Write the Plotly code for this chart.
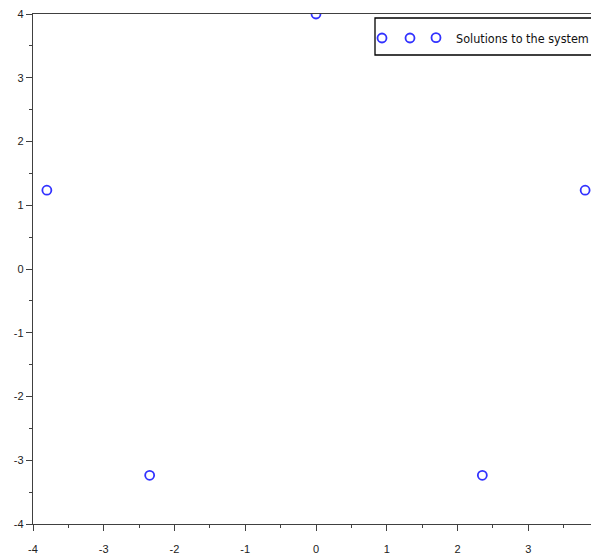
import plotly.graph_objects as go

# Data
x_vals = [0.0, 3.804, 2.351, -2.351, -3.804]
y_vals = [4.0, 1.236, -3.236, -3.236, 1.236]
series_name = "Solutions to the system"
tick_vals = [-4, -3, -2, -1, 0, 1, 2, 3, 4]
tick_text = ["-4", "-3", "-2", "-1", "0", "1", "2", "3", "4"]

blue = "rgb(50,50,255)"
axis_col = "#404040"

# page offset (browser body margin) = 8px; reference plot area: x 33..599, y 14..524
PL, PT, PW, PH = 33, 14, 566, 510

def px_x(p):
    return (p - PL) / PW

def px_y(p):
    return 1 - (p - PT) / PH

marker = dict(symbol="circle-open", size=9, color=blue, line=dict(width=1.8, color=blue))

fig = go.Figure()
fig.add_trace(go.Scatter(x=x_vals, y=y_vals, mode="markers", marker=marker, name=series_name))

tickfont = dict(family="Liberation Sans, Arial, sans-serif", size=11, color="#222222")
common = dict(
    showgrid=False, zeroline=False, showline=True, linecolor=axis_col, linewidth=1.3,
    ticks="outside", ticklen=6, tickwidth=1.3, tickcolor=axis_col,
    tickvals=tick_vals, ticktext=tick_text, tickfont=tickfont, automargin=False,
    ticklabeloverflow="allow",
    minor=dict(ticks="outside", ticklen=3, tickwidth=1.3, tickcolor=axis_col, dtick=0.5, showgrid=False),
)

shapes = [dict(type="rect", xref="paper", yref="paper",
               x0=px_x(375), x1=px_x(592), y0=px_y(55), y1=px_y(18),
               line=dict(color="black", width=1.3), fillcolor="white", layer="below")]
# extra legend sample circles (Scilab draws three markers in the legend)
for cx in (382, 410):
    shapes.append(dict(type="circle", xref="paper", yref="paper",
                       xsizemode="pixel", ysizemode="pixel",
                       xanchor=px_x(cx), yanchor=px_y(38),
                       x0=-4.5, x1=4.5, y0=-4.5, y1=4.5,
                       line=dict(color=blue, width=1.8), layer="above"))

fig.update_layout(
    width=591, height=546,
    margin=dict(l=25, r=0, t=6, b=30),
    paper_bgcolor="white", plot_bgcolor="white",
    xaxis=dict(range=[-4, 4], mirror=True, ticklabelstandoff=9, **common),
    yaxis=dict(range=[-4, 4], mirror=False, **common),
    legend=dict(
        x=px_x(416), y=px_y(23), xanchor="left", yanchor="top",
        bgcolor="rgba(0,0,0,0)", borderwidth=0,
        font=dict(family="DejaVu Sans Condensed, Liberation Sans Narrow, sans-serif", size=12.5, color="#111111"),
        itemclick=False, itemdoubleclick=False,
    ),
    shapes=shapes,
    showlegend=True,
)

fig.write_html("out.html")
